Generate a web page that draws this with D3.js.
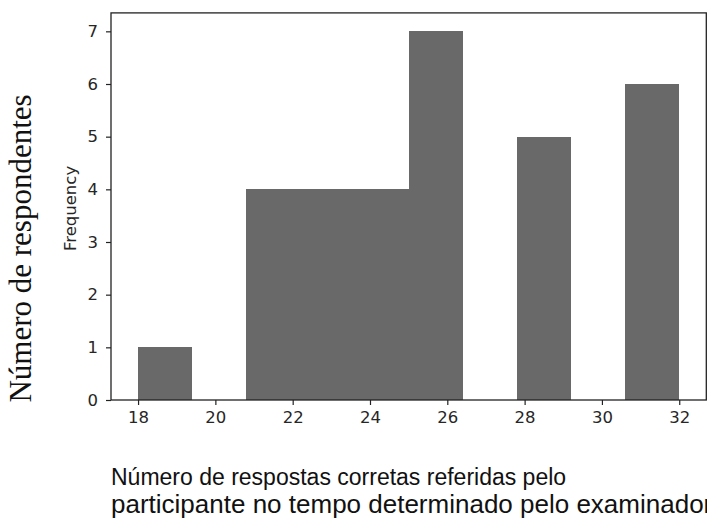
<!DOCTYPE html>
<html>
<head>
<meta charset="utf-8">
<script src="https://cdn.jsdelivr.net/npm/d3@7"></script>
<style>
  html, body { margin: 0; padding: 0; background: #fff; overflow: hidden; }
  svg { display: block; }
</style>
</head>
<body>
<svg id="chart" width="707" height="518"></svg>
<script>
// Histogram of correct answers per participant
const binEdges = [18, 19.4, 20.8, 22.2, 23.6, 25.0, 26.4, 27.8, 29.2, 30.6, 32];
const counts = [1, 0, 4, 4, 4, 7, 0, 5, 0, 6];
const xTicks = [18, 20, 22, 24, 26, 28, 30, 32];
const yTicks = [0, 1, 2, 3, 4, 5, 6, 7];
const freqLabel = "Frequency";
const yTitle = "Número de respondentes";
const xTitleLines = [
  "Número de respostas corretas referidas pelo",
  "participante no tempo determinado pelo examinador"
];

const bins = counts.map((c, i) => ({ x0: binEdges[i], x1: binEdges[i + 1], count: c }));

// Axes frame
const plot = { left: 111, right: 706.3, top: 12.9, bottom: 400 };
const xPad = (binEdges[binEdges.length - 1] - binEdges[0]) * 0.05;
const yMax = d3.max(counts) * 1.05;

const x = d3.scaleLinear()
  .domain([binEdges[0] - xPad, binEdges[binEdges.length - 1] + xPad])
  .range([plot.left, plot.right]);
const y = d3.scaleLinear()
  .domain([0, yMax])
  .range([plot.bottom, plot.top]);

const svg = d3.select("#chart");
const tickFont = "'DejaVu Sans', sans-serif";
const tickSize = 16.5;

// Bars
svg.append("g")
  .selectAll("rect")
  .data(bins.filter(b => b.count > 0))
  .join("rect")
  .attr("x", d => x(d.x0))
  .attr("width", d => x(d.x1) - x(d.x0))
  .attr("y", d => y(d.count))
  .attr("height", d => y(0) - y(d.count))
  .attr("fill", "#696969")
  .attr("shape-rendering", "crispEdges");

// X axis
const xAxis = d3.axisBottom(x).tickValues(xTicks).tickSize(5).tickPadding(6).tickFormat(d3.format("d"));
const gx = svg.append("g").attr("transform", `translate(0,${plot.bottom})`).call(xAxis);
gx.select(".domain").remove();
gx.selectAll(".tick line").attr("stroke", "#222").attr("stroke-width", 1.2);
gx.selectAll(".tick text")
  .attr("font-family", tickFont).attr("font-size", tickSize).attr("fill", "#262626");

// Y axis
const yAxis = d3.axisLeft(y).tickValues(yTicks).tickSize(5).tickPadding(8).tickFormat(d3.format("d"));
const gy = svg.append("g").attr("transform", `translate(${plot.left},0)`).call(yAxis);
gy.select(".domain").remove();
gy.selectAll(".tick line").attr("stroke", "#222").attr("stroke-width", 1.2);
gy.selectAll(".tick text")
  .attr("font-family", tickFont).attr("font-size", tickSize).attr("fill", "#262626");

// Spines on all four sides
svg.append("rect")
  .attr("x", plot.left).attr("y", plot.top)
  .attr("width", plot.right - plot.left).attr("height", plot.bottom - plot.top)
  .attr("fill", "none").attr("stroke", "#222").attr("stroke-width", 1.3);

// Axis label drawn by the plotting library
svg.append("text")
  .attr("transform", `translate(75.5,${(plot.top + plot.bottom) / 2 + 2}) rotate(-90)`)
  .attr("text-anchor", "middle")
  .attr("font-family", tickFont).attr("font-size", tickSize).attr("fill", "#262626")
  .text(freqLabel);

// Outer titles
svg.append("text")
  .attr("transform", "translate(31,248.5) rotate(-90)")
  .attr("text-anchor", "middle")
  .attr("font-family", "'Liberation Serif', 'Times New Roman', serif")
  .attr("font-size", 31).attr("fill", "#111")
  .text(yTitle);

// Two-line caption under the axis; the second line runs past the right edge
const caption = svg.append("g")
  .attr("font-family", "'Liberation Sans', Arial, sans-serif")
  .attr("fill", "#111");
caption.append("text").attr("x", 111).attr("y", 485)
  .attr("font-size", 23).text(xTitleLines[0]);
caption.append("text").attr("x", 111).attr("y", 512.5)
  .attr("font-size", 26).text(xTitleLines[1]);
</script>
</body>
</html>
